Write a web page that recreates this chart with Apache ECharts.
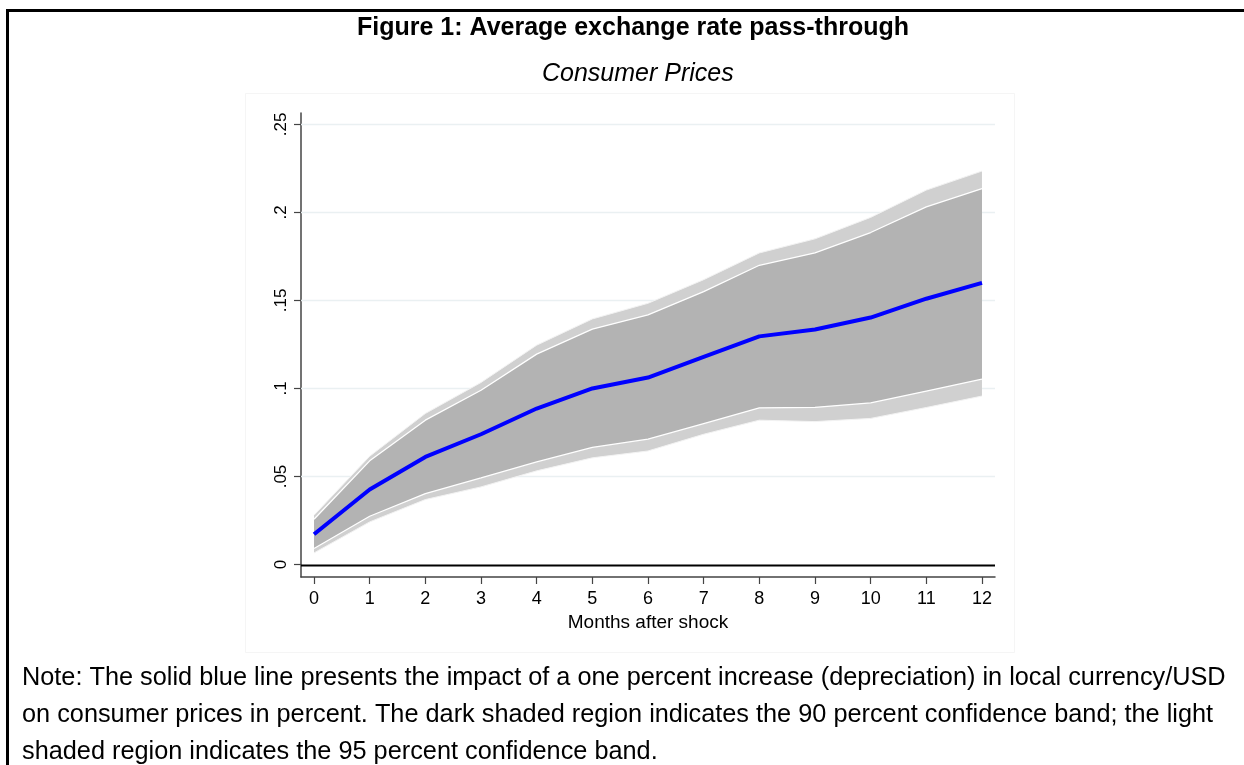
<!DOCTYPE html>
<html>
<head>
<meta charset="utf-8">
<script src="https://cdn.jsdelivr.net/npm/echarts@6/dist/echarts.min.js"></script>
<style>
  html, body { margin: 0; padding: 0; background: #fff; }
  #chart { width: 1244px; height: 765px; }
</style>
</head>
<body>
<div id="chart"></div>
<script>
"use strict";
// months after the shock
const months = [0, 1, 2, 3, 4, 5, 6, 7, 8, 9, 10, 11, 12];
// average pass-through (blue line)
const passThrough = [0.0172, 0.0426, 0.0611, 0.0740, 0.0886, 0.1000, 0.1062, 0.1180, 0.1296, 0.1335, 0.1403, 0.1510, 0.1600];
// 90 percent band (dark)
const band90Low = [0.0091, 0.0274, 0.0403, 0.0492, 0.0583, 0.0665, 0.0712, 0.0800, 0.0890, 0.0893, 0.0918, 0.0985, 0.1053];
const band90High = [0.0257, 0.0589, 0.0820, 0.0990, 0.1195, 0.1337, 0.1418, 0.1550, 0.1700, 0.1770, 0.1886, 0.2032, 0.2135];
// 95 percent band (light)
const band95Low = [0.0066, 0.0242, 0.0369, 0.0441, 0.0532, 0.0606, 0.0645, 0.0740, 0.0820, 0.0812, 0.0830, 0.0892, 0.0957];
const band95High = [0.0280, 0.0615, 0.0858, 0.1034, 0.1246, 0.1395, 0.1484, 0.1618, 0.1770, 0.1850, 0.1972, 0.2127, 0.2235];
const yTicks = [0, 0.05, 0.1, 0.15, 0.2, 0.25];

const FONT = "'Liberation Sans', Arial, sans-serif";

const pairs = (ys) => months.map((m, i) => [m, ys[i]]);

// filled band between two curves, drawn through the axes
function band(lo, hi, color, z) {
  return {
    type: "custom",
    silent: true,
    z: z,
    data: [0],
    renderItem: (params, api) => {
      const top = months.map((m, i) => api.coord([m, hi[i]]));
      const bottom = months.map((m, i) => api.coord([m, lo[i]])).reverse();
      return { type: "polygon", shape: { points: top.concat(bottom) }, style: { fill: color } };
    }
  };
}

function edge(ys, color, width, z) {
  return {
    type: "line",
    data: pairs(ys),
    showSymbol: false,
    silent: true,
    lineStyle: { color: color, width: width },
    z: z
  };
}

const chart = echarts.init(document.getElementById("chart"));

const option = {
  backgroundColor: "#fff",
  animation: false,
  title: [
    {
      text: "Figure 1: Average exchange rate pass-through",
      left: 352,
      top: 11,
      textStyle: { fontFamily: FONT, fontSize: 25, fontWeight: "bold", color: "#000" }
    },
    {
      text: "Consumer Prices",
      left: 537,
      top: 57,
      textStyle: { fontFamily: FONT, fontSize: 25, fontStyle: "italic", fontWeight: "normal", color: "#000" }
    }
  ],
  graphic: [
    {
      type: "rect",
      shape: { x: 7.5, y: 10.5, width: 1260, height: 800 },
      style: { fill: "none", stroke: "#000", lineWidth: 3 },
      silent: true
    },
    {
      type: "rect",
      shape: { x: 245.5, y: 93.5, width: 769, height: 559 },
      style: { fill: "none", stroke: "#f5f5f5", lineWidth: 1 },
      silent: true
    },
    {
      type: "text",
      left: 22,
      top: 660,
      style: {
        text: "Note: The solid blue line presents the impact of a one percent increase (depreciation) in local currency/USD\n" +
          "on consumer prices in percent. The dark shaded region indicates the 90 percent confidence band; the light\n" +
          "shaded region indicates the 95 percent confidence band.",
        font: "25.3px " + FONT,
        fill: "#000",
        lineHeight: 37
      }
    }
  ],
  grid: { left: 301, right: 249, top: 113, bottom: 188 },
  xAxis: {
    type: "value",
    min: -0.234,
    max: 12.234,
    name: "Months after shock",
    nameLocation: "middle",
    nameGap: 29,
    nameTextStyle: { fontFamily: FONT, fontSize: 19, color: "#000" },
    axisLine: { onZero: false, lineStyle: { color: "#444", width: 1.5 } },
    axisTick: { length: 7, lineStyle: { color: "#444", width: 1.2 }, customValues: months },
    axisLabel: { customValues: months, fontFamily: FONT, fontSize: 18, color: "#000", margin: 13 },
    splitLine: { show: false }
  },
  yAxis: {
    type: "value",
    min: -0.0071,
    max: 0.2565,
    axisLine: { show: true, onZero: false, lineStyle: { color: "#444", width: 1.5 } },
    axisTick: { show: true, length: 7, lineStyle: { color: "#444", width: 1.2 }, customValues: yTicks },
    axisLabel: {
      customValues: yTicks,
      rotate: 90,
      fontFamily: FONT,
      fontSize: 17,
      color: "#000",
      margin: 11,
      formatter: (v) => (v === 0 ? "0" : String(+v.toFixed(2)).replace(/^0/, ""))
    },
    splitLine: { show: false }
  },
  series: [
    {
      // grid lines and the zero reference line
      type: "custom",
      silent: true,
      z: 1,
      data: [0],
      renderItem: (params, api) => {
        const x0 = params.coordSys.x;
        const x1 = x0 + params.coordSys.width;
        return {
          type: "group",
          children: yTicks.map((v) => {
            const y = Math.round(api.coord([0, v])[1]) + 0.5;
            return {
              type: "line",
              shape: { x1: x0, y1: y, x2: x1, y2: y },
              style: v === 0 ? { stroke: "#000", lineWidth: 1.8 } : { stroke: "#eaf0f2", lineWidth: 1.5 }
            };
          })
        };
      }
    },
    band(band95Low, band95High, "#d0d0d0", 2),
    band(band90Low, band90High, "#b3b3b3", 3),
    edge(band95Low, "#f3f3f3", 1, 4),
    edge(band95High, "#f3f3f3", 1, 4),
    edge(band90Low, "#ffffff", 1.3, 4),
    edge(band90High, "#ffffff", 1.3, 4),
    {
      type: "line",
      data: pairs(passThrough),
      showSymbol: false,
      lineStyle: { color: "#0000ff", width: 4 },
      z: 5
    }
  ]
};

chart.setOption(option);
</script>
</body>
</html>
